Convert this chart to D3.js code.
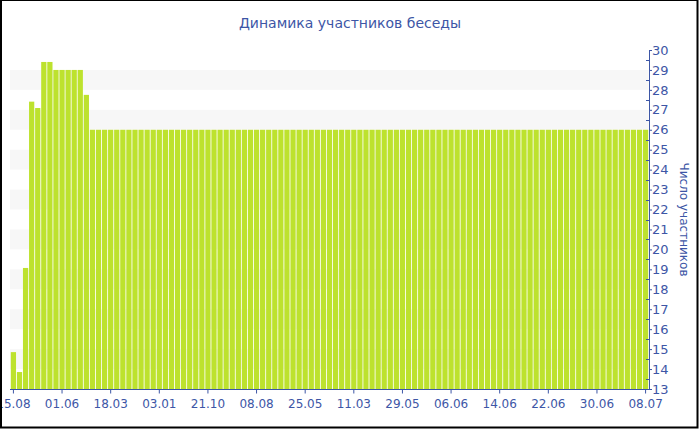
<!DOCTYPE html>
<html><head><meta charset="utf-8">
<script src="https://cdn.jsdelivr.net/npm/d3@7/dist/d3.min.js"></script>
<style>body{margin:0;background:#fff}svg{display:block}</style>
</head><body>
<svg id="c" width="700" height="430"></svg>
<script>
const title = "Динамика участников беседы";
const yTitle = "Число участников";
const headValues = [14.85, 13.85, 19.07, 27.41, 27.09, 29.4, 29.4, 29, 29, 29, 29, 29, 27.75];
const tailValues = [26,26,26,26,26,26,26,26,26,26,26,26,26,26,26,26,26,26,26,26,26,26,26,
  26,26,26,26,26,26,26,26,26,26,26,26,26,26,26,26,26,26,26,26,26,26,26,
  26,26,26,26,26,26,26,26,26,26,26,26,26,26,26,26,26,26,26,26,26,26,26,
  26,26,26,26,26,26,26,26,26,26,26,26,26,26,26,26,26,26,26,26,26,26,26];
const values = headValues.concat(tailValues);
const categories = values.map((d, i) => i);
const tickLabels = ["15.08","01.06","18.03","03.01","21.10","08.08","25.05","11.03","29.05","06.06","14.06","22.06","30.06","08.07"];
const tickEvery = 8;
const yTicks = d3.range(13, 31);
const stripes = [14, 16, 18, 20, 22, 24, 26, 28];

const blue = "#3d56a6";
const svg = d3.select("#c");
const pL = 10.5, pR = 648.5, pT = 50, pB = 389;

const x = d3.scaleBand().domain(categories).range([pL, pR]).paddingInner(0.14).paddingOuter(0.05);
const y = d3.scaleLinear().domain([13, 30]).range([pB, pT]);

// stripes
svg.append("g").selectAll("rect").data(stripes).join("rect")
  .attr("x", 10).attr("width", pR - 10)
  .attr("y", d => y(d + 1)).attr("height", d => y(d) - y(d + 1))
  .attr("fill", "#f7f7f7");

// bars
svg.append("g").selectAll("rect").data(values).join("rect")
  .attr("x", (d, i) => x(categories[i]))
  .attr("width", x.bandwidth())
  .attr("y", d => y(d))
  .attr("height", d => y(13) - y(d))
  .attr("fill", "#bde22e");

// x axis
const xAxis = d3.axisBottom(x)
  .tickValues(categories.filter(i => i % tickEvery === 0))
  .tickFormat(i => tickLabels[i / tickEvery])
  .tickSize(4).tickSizeOuter(0);
const gx = svg.append("g").attr("transform", `translate(0,${pB + 0.5})`).call(xAxis);
gx.select(".domain").attr("stroke", blue).attr("d", `M10,0H${pR + 0.5}`);
gx.selectAll(".tick line").attr("stroke", blue);
gx.selectAll(".tick text").attr("fill", blue).attr("font-family", "DejaVu Sans, Verdana, sans-serif")
  .attr("font-size", 12).attr("dy", "0.95em").attr("y", 7);

// y axis (right)
const yAxis = d3.axisRight(y).tickValues(yTicks).tickFormat(d3.format("d")).tickSize(3).tickSizeOuter(0);
const gy = svg.append("g").attr("transform", `translate(${pR + 0.5},0)`).call(yAxis);
gy.select(".domain").attr("stroke", blue);
gy.selectAll(".tick line").attr("stroke", blue);
gy.selectAll(".tick text").attr("fill", blue).attr("font-family", "DejaVu Sans, Verdana, sans-serif")
  .attr("font-size", 13).attr("x", 3);
// minor ticks
gy.append("g").selectAll("line").data(d3.range(13.5, 30, 1)).join("line")
  .attr("x1", -3).attr("x2", 0)
  .attr("y1", d => Math.round(y(d)) + 0.5).attr("y2", d => Math.round(y(d)) + 0.5)
  .attr("stroke", blue);

// y title
svg.append("text")
  .attr("transform", `translate(680,${(pT + pB) / 2}) rotate(90)`)
  .attr("text-anchor", "middle")
  .attr("fill", blue).attr("font-family", "DejaVu Sans, Verdana, sans-serif").attr("font-size", 12)
  .text(yTitle);

// title
svg.append("text").attr("x", 350).attr("y", 28).attr("text-anchor", "middle")
  .attr("fill", blue).attr("font-family", "DejaVu Sans, Verdana, sans-serif").attr("font-size", 14)
  .text(title);

// frame
svg.append("rect").attr("x", 1).attr("y", 0).attr("width", 696.5).attr("height", 427.5)
  .attr("fill", "none").attr("stroke", "#000").attr("stroke-width", 2);
</script>
</body></html>
